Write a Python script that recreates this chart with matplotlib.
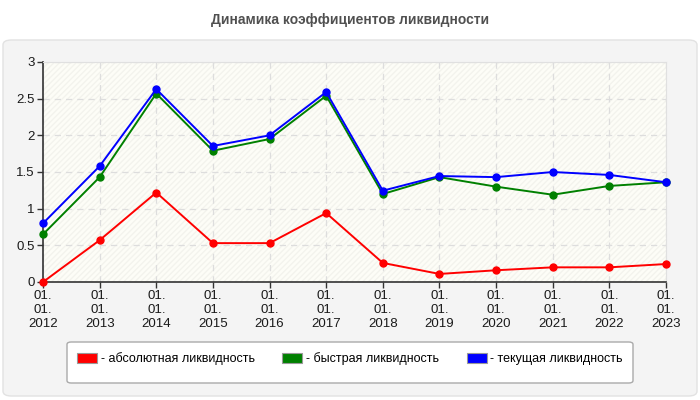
import matplotlib.pyplot as plt
from matplotlib.patches import FancyBboxPatch, Patch

years = ['2012', '2013', '2014', '2015', '2016', '2017', '2018', '2019', '2020', '2021', '2022', '2023']
tick_labels = ['01.\n01.\n' + y for y in years]

absolute = [0.0, 0.57, 1.22, 0.53, 0.53, 0.94, 0.26, 0.11, 0.16, 0.20, 0.20, 0.245]
quick = [0.65, 1.43, 2.57, 1.79, 1.95, 2.54, 1.20, 1.43, 1.30, 1.19, 1.31, 1.36]
current = [0.80, 1.58, 2.63, 1.855, 2.00, 2.59, 1.245, 1.445, 1.43, 1.50, 1.46, 1.36]

series_names = ['- абсолютная ликвидность', '- быстрая ликвидность', '- текущая ликвидность']
series_colors = ['#ff0000', '#008000', '#0000ff']

plt.rcParams['font.family'] = ['Liberation Sans Narrow', 'Liberation Sans', 'DejaVu Sans']

fig = plt.figure(figsize=(7, 4), dpi=100)
fig.patch.set_facecolor('white')

# grey panel behind the chart
panel = FancyBboxPatch((3 / 700, 4 / 400), 694 / 700, 356 / 400,
                       boxstyle='round,pad=0,rounding_size=0.012',
                       transform=fig.transFigure, facecolor='#f4f4f4',
                       edgecolor='#e2e2e2', linewidth=1, zorder=-10)
fig.patches.append(panel)

fig.text(0.5, 1 - 20 / 400, 'Динамика коэффициентов ликвидности', ha='center', va='center',
         fontsize=10, fontweight='bold', color='#505050')

ax = fig.add_axes([43 / 700, 1 - 282 / 400, 623 / 700, 220 / 400])
ax.set_facecolor('#fdfdf7')
ax.fill_between([0, len(years) - 1], 0, 3, facecolor='none', hatch='//////',
                edgecolor='#f3f3ed', linewidth=0, zorder=0)

x = list(range(len(years)))
for vals, c in zip([absolute, quick, current], series_colors):
    ax.plot(x, vals, color=c, linewidth=1.4, marker='o', markersize=5, zorder=3, clip_on=False)

ax.set_xlim(0, len(years) - 1)
ax.set_ylim(0, 3)
ax.set_xticks(x)
ax.set_xticklabels(tick_labels, fontsize=9.5, linespacing=1.2, color='#1a1a1a')
ax.set_yticks([0, 0.5, 1, 1.5, 2, 2.5, 3])
ax.set_yticklabels(['0', '0.5', '1', '1.5', '2', '2.5', '3'], fontsize=9.5, color='#1a1a1a')
ax.tick_params(length=4, width=1, color='#333333', pad=2)
ax.grid(True, color='#dddddd', linestyle=(0, (5, 4)), linewidth=0.9)
ax.set_axisbelow(True)
for side in ['top', 'right']:
    ax.spines[side].set_color('#e0e0e0')
for side in ['left', 'bottom']:
    ax.spines[side].set_color('#333333')
    ax.spines[side].set_linewidth(1.2)

# legend box
legend_box = FancyBboxPatch((67 / 700, 1 - 383 / 400), 566 / 700, 41 / 400,
                            boxstyle='round,pad=0,rounding_size=0.006',
                            transform=fig.transFigure, facecolor='white',
                            edgecolor='#aaaaaa', linewidth=1, zorder=-5)
fig.patches.append(legend_box)

handles = [Patch(facecolor=c, edgecolor='#999999', linewidth=0.8) for c in series_colors]
fig.legend(handles, series_names, loc='center left', bbox_to_anchor=(77 / 700, 1 - 359 / 400),
           ncol=3, frameon=False, fontsize=9, handlelength=1.6, handleheight=0.8,
           handletextpad=0.3, columnspacing=2.2, borderaxespad=0, borderpad=0)

fig.savefig('out.png', dpi=100)
